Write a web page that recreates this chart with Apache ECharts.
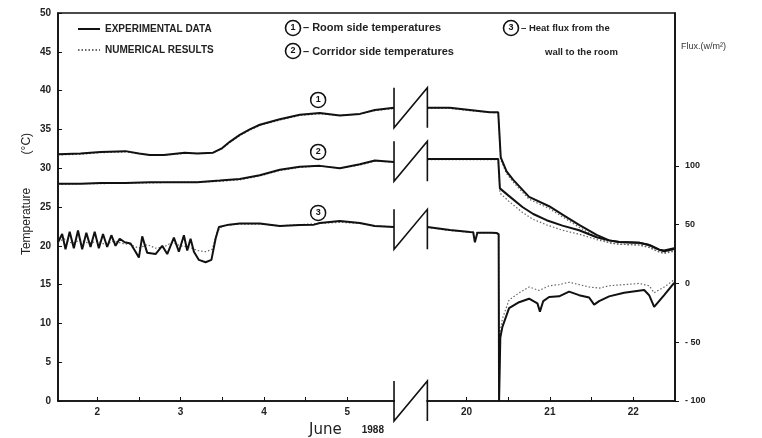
<!DOCTYPE html>
<html>
<head>
<meta charset="utf-8">
<script src="https://cdn.jsdelivr.net/npm/echarts@6/dist/echarts.min.js"></script>
<style>
  html, body { margin: 0; padding: 0; background: #fff; }
  #main { width: 762px; height: 438px; }
</style>
</head>
<body>
<div id="main"></div>
<script>
// days of June 1988; the axis skips from the 5th to the 19th
var dayShift = 13.57;
var breakFrom = 5.56, breakTo = 19.53;

var dayTicks = [2, 2.5, 3, 3.5, 4, 4.5, 5, 20, 20.5, 21, 21.5, 22];
var dayLabels = [2, 3, 4, 5, 20, 21, 22];
var fluxTicks = [-100, -50, 0, 50, 100];

// (1) room side temperature, deg C
var roomExp = [
  [1.53,31.8],[1.8,31.9],[2.04,32.1],[2.34,32.2],[2.5,31.9],[2.63,31.7],[2.8,31.7],[3.05,32.0],[3.2,31.9],[3.39,32.0],
  [3.5,32.6],[3.59,33.4],[3.71,34.3],[3.83,35.0],[3.95,35.6],[4.19,36.3],[4.43,36.9],[4.67,37.1],[4.91,36.8],[5.15,37.0],[5.33,37.5],[5.56,37.8],
  [19.53,37.8],[19.8,37.8],[20.04,37.5],[20.28,37.2],[20.38,37.2],[20.41,31.4],[20.48,29.6],[20.56,28.5],[20.75,26.3],[20.99,25.1],
  [21.17,23.9],[21.35,22.7],[21.56,21.4],[21.71,20.7],[21.83,20.5],[22.07,20.4],[22.19,20.1],[22.31,19.5],[22.37,19.4],[22.49,19.7]
];
var roomNum = [
  [1.53,31.7],[1.8,31.8],[2.04,32.0],[2.34,32.1],[2.5,31.9],[2.63,31.7],[2.8,31.7],[3.05,31.9],[3.2,31.9],[3.39,32.0],
  [3.5,32.5],[3.59,33.3],[3.71,34.2],[3.83,34.9],[3.95,35.5],[4.19,36.2],[4.43,36.8],[4.67,37.0],[4.91,36.8],[5.15,37.0],[5.33,37.4],[5.56,37.7],
  [19.53,37.7],[19.8,37.7],[20.04,37.4],[20.28,37.2],[20.38,37.1],[20.41,31.1],[20.48,29.3],[20.56,28.2],[20.75,26.0],[20.99,24.8],
  [21.17,23.6],[21.35,22.4],[21.56,21.1],[21.71,20.4],[21.83,20.2],[22.07,20.1],[22.19,19.8],[22.31,19.2],[22.37,19.1],[22.49,19.4]
];

// (2) corridor side temperature, deg C
var corrExp = [
  [1.53,28.0],[1.8,28.0],[2.04,28.1],[2.34,28.1],[2.63,28.2],[2.9,28.2],[3.2,28.2],[3.47,28.4],[3.71,28.6],[3.95,29.1],
  [4.19,29.8],[4.43,30.2],[4.67,30.3],[4.91,30.0],[5.15,30.5],[5.33,31.0],[5.56,30.8],
  [19.53,31.2],[20.04,31.2],[20.38,31.2],[20.40,27.4],[20.50,26.5],[20.67,25.0],[20.80,24.1],[20.96,23.3],[21.15,22.6],
  [21.35,22.0],[21.56,21.1],[21.71,20.7],[21.83,20.5],[22.07,20.4],[22.19,20.1],[22.31,19.5],[22.37,19.3],[22.49,19.6]
];
var corrNum = [
  [1.53,27.9],[1.8,28.0],[2.04,28.0],[2.34,28.1],[2.63,28.1],[2.9,28.2],[3.2,28.2],[3.47,28.3],[3.71,28.5],[3.95,29.0],
  [4.19,29.7],[4.43,30.1],[4.67,30.3],[4.91,30.0],[5.15,30.4],[5.33,30.9],[5.56,30.8],
  [19.53,31.1],[20.04,31.1],[20.38,31.1],[20.40,26.8],[20.50,25.8],[20.67,24.3],[20.80,23.4],[20.96,22.7],[21.15,22.0],
  [21.35,21.5],[21.56,20.8],[21.71,20.4],[21.83,20.2],[22.07,20.1],[22.19,19.8],[22.31,19.2],[22.37,19.0],[22.49,19.3]
];

// (3) heat flux from the wall to the room, W/m2
var fluxExp = [
  [1.53,35],[1.58,42],[1.62,29],[1.67,44],[1.72,30],[1.77,45],[1.82,29],[1.87,43],[1.92,31],[1.97,44],[2.02,30],[2.07,42],
  [2.12,31],[2.17,41],[2.22,32],[2.27,38],[2.33,35],[2.40,34],[2.46,27],[2.50,22],[2.54,40],[2.60,26],[2.70,25],[2.78,32],
  [2.84,25],[2.92,39],[2.98,27],[3.04,41],[3.08,28],[3.12,38],[3.16,27],[3.22,20],[3.30,18],[3.37,20],[3.42,38],[3.46,48],
  [3.58,50],[3.71,51],[3.95,51],[4.19,48.8],[4.43,49.7],[4.60,50],[4.67,51.4],[4.91,53],[5.15,51.4],[5.33,48.8],[5.56,48],
  [19.53,48],[19.8,45.4],[20.04,43.7],[20.08,43.5],[20.10,35],[20.13,43],[20.30,43],[20.36,42.9],[20.385,42],[20.39,-100],
  [20.405,-46],[20.43,-37],[20.46,-31],[20.51,-21],[20.63,-16],[20.75,-13],[20.85,-17],[20.88,-24],[20.92,-15],[20.99,-11.5],
  [21.11,-11],[21.23,-7],[21.35,-10],[21.47,-12],[21.53,-18],[21.59,-15],[21.71,-11],[21.89,-8],[22.13,-5.6],[22.19,-10],
  [22.25,-20],[22.37,-10],[22.49,0.4]
];
var fluxNum = [
  [1.53,35],[1.6,38],[1.7,34],[1.8,37],[1.9,34],[2.0,36],[2.1,33],[2.2,36],[2.3,34],[2.4,33],[2.5,30],[2.6,33],[2.7,30],
  [2.8,31],[2.9,35],[3.0,32],[3.1,31],[3.2,28],[3.3,27],[3.38,29],[3.44,44],[3.5,49],[3.71,50.5],[3.95,50.5],[4.19,49],
  [4.43,50],[4.67,51],[4.91,52],[5.15,51],[5.33,49],[5.56,48],
  [19.53,47.5],[19.8,45],[20.04,43.5],[20.3,43],[20.385,42],[20.39,-100],[20.405,-40],[20.43,-30],[20.46,-24],[20.51,-14],
  [20.63,-8],[20.75,-3],[20.87,-6],[20.99,-2],[21.11,-1],[21.23,1],[21.35,-1],[21.47,-3],[21.59,-4],[21.71,-2],[21.89,-1],
  [22.07,0],[22.19,-2],[22.25,-8],[22.37,-3],[22.49,3]
];

// break marks: [from day, to day, level]
var tempBreaks = [[breakFrom, breakTo, 37.8], [breakFrom, breakTo, 30.9], [breakFrom, breakTo, 0]];
var fluxBreaks = [[breakFrom, breakTo, 46]];

function toU(d) { return d > 10 ? d - dayShift : d; }
function fromU(u) { return u > 6 ? Math.round(u + dayShift) : Math.round(u); }

function build(arr) {
  var out = [];
  for (var i = 0; i < arr.length; i++) {
    if (i > 0 && arr[i][0] - arr[i - 1][0] > 5) out.push([(toU(breakFrom) + toU(breakTo)) / 2, '-']);
    out.push([toU(arr[i][0]), arr[i][1]]);
  }
  return out;
}

function renderBreak(params, api) {
  var a = api.coord([toU(api.value(0)), api.value(2)]);
  var b = api.coord([toU(api.value(1)), api.value(2)]);
  var h = 20;
  return {
    type: 'group',
    children: [
      { type: 'rect', shape: { x: a[0] + 1, y: a[1] - 3, width: b[0] - a[0] - 2, height: 6 }, style: { fill: '#fff' } },
      { type: 'polyline', shape: { points: [[a[0], a[1] - h], [a[0], a[1] + h], [b[0], a[1] - h], [b[0], a[1] + h]] },
        style: { stroke: '#111', lineWidth: 1.6, fill: 'none' } }
    ]
  };
}

function mark(txt, coord) {
  return {
    symbol: 'circle', symbolSize: 15, silent: true,
    itemStyle: { color: '#fff', borderColor: '#111', borderWidth: 1.5 },
    label: { show: true, position: 'inside', formatter: txt, color: '#111', fontSize: 9, fontWeight: 'bold' },
    data: [{ coord: coord }]
  };
}

var expStyle = { color: '#111', width: 2 };
var numStyle = { color: '#666', width: 1.2, type: [1.5, 2] };

var myChart = echarts.init(document.getElementById('main'));
myChart.setOption({
  animation: false,
  backgroundColor: '#fff',
  textStyle: { fontFamily: 'Liberation Sans' },
  grid: { left: 58, right: 87, top: 13, bottom: 37, outerBoundsMode: 'none', containLabel: false,
    show: true, borderColor: '#111', borderWidth: 1.6 },
  legend: {
    left: 72, top: 19, orient: 'vertical', itemGap: 11, itemWidth: 22, itemHeight: 8,
    itemStyle: { opacity: 0 },
    textStyle: { fontSize: 10, fontWeight: 'bold', color: '#222' },
    data: ['EXPERIMENTAL DATA', 'NUMERICAL RESULTS']
  },
  xAxis: {
    type: 'value', min: toU(1.53), max: toU(22.5),
    name: '{a|June}      {b|1988}', nameLocation: 'middle', nameGap: 22,
    nameTextStyle: { padding: [0, 40, 0, 0], rich: {
      a: { fontSize: 15, color: '#222', fontFamily: 'DejaVu Sans' },
      b: { fontSize: 10, fontWeight: 'bold', color: '#222' } } },
    axisLine: { lineStyle: { color: '#111', width: 1.6 } },
    axisTick: { inside: true, length: 4, customValues: dayTicks.map(toU), lineStyle: { color: '#111' } },
    axisLabel: { customValues: dayLabels.map(toU), formatter: function (v) { return fromU(v); },
      fontSize: 10, fontWeight: 'bold', color: '#222', margin: 6 },
    splitLine: { show: false }
  },
  yAxis: [{
    type: 'value', min: 0, max: 50, interval: 5,
    name: 'Temperature          (°C)', nameLocation: 'middle', nameGap: 25, nameMoveOverlap: false,
    nameTextStyle: { fontSize: 12, color: '#222', padding: [0, 0, 0, 26] },
    axisLine: { show: true, lineStyle: { color: '#111', width: 1.6 } },
    axisTick: { show: true, inside: true, length: 4, lineStyle: { color: '#111' } },
    axisLabel: { fontSize: 10, fontWeight: 'bold', color: '#222', margin: 7 },
    splitLine: { show: false }
  }, {
    type: 'value', min: -100, max: 230, position: 'right',
    axisLine: { show: true, lineStyle: { color: '#111', width: 1.6 } },
    axisTick: { show: true, length: 4, customValues: fluxTicks, lineStyle: { color: '#111' } },
    axisLabel: { customValues: fluxTicks, fontSize: 9, fontWeight: 'bold', color: '#222', margin: 10,
      formatter: function (v) { return v < 0 ? '- ' + (-v) : String(v); } },
    splitLine: { show: false }
  }],
  graphic: [
    { type: 'circle', shape: { cx: 293, cy: 28, r: 7.5 }, style: { fill: '#fff', stroke: '#111', lineWidth: 1.6 } },
    { type: 'text', x: 293, y: 28, style: { text: '1', font: 'bold 9px "Liberation Sans"', fill: '#111', align: 'center', verticalAlign: 'middle' } },
    { type: 'text', x: 303, y: 28, style: { text: '– Room side temperatures', font: 'bold 11px "Liberation Sans"', fill: '#222', verticalAlign: 'middle' } },
    { type: 'circle', shape: { cx: 293, cy: 51, r: 7.5 }, style: { fill: '#fff', stroke: '#111', lineWidth: 1.6 } },
    { type: 'text', x: 293, y: 51, style: { text: '2', font: 'bold 9px "Liberation Sans"', fill: '#111', align: 'center', verticalAlign: 'middle' } },
    { type: 'text', x: 303, y: 52, style: { text: '– Corridor side temperatures', font: 'bold 11px "Liberation Sans"', fill: '#222', verticalAlign: 'middle' } },
    { type: 'circle', shape: { cx: 511, cy: 28, r: 7.5 }, style: { fill: '#fff', stroke: '#111', lineWidth: 1.6 } },
    { type: 'text', x: 511, y: 28, style: { text: '3', font: 'bold 9px "Liberation Sans"', fill: '#111', align: 'center', verticalAlign: 'middle' } },
    { type: 'text', x: 521, y: 28, style: { text: '– Heat flux from the', font: 'bold 9.5px "Liberation Sans"', fill: '#222', verticalAlign: 'middle' } },
    { type: 'text', x: 545, y: 52, style: { text: 'wall to the room', font: 'bold 9.5px "Liberation Sans"', fill: '#222', verticalAlign: 'middle' } },
    { type: 'text', x: 681, y: 47, style: { text: 'Flux.(w/m²)', font: '9px "Liberation Sans"', fill: '#333', verticalAlign: 'middle' } }
  ],
  series: [
    { name: 'NUMERICAL RESULTS', type: 'line', yAxisIndex: 0, showSymbol: false, symbol: 'none', z: 2, lineStyle: numStyle, itemStyle: { color: '#666' }, data: build(roomNum) },
    { name: 'NUMERICAL RESULTS', type: 'line', yAxisIndex: 0, showSymbol: false, symbol: 'none', z: 2, lineStyle: numStyle, itemStyle: { color: '#666' }, data: build(corrNum) },
    { name: 'NUMERICAL RESULTS', type: 'line', yAxisIndex: 1, showSymbol: false, symbol: 'none', z: 2, lineStyle: numStyle, itemStyle: { color: '#666' }, data: build(fluxNum) },
    { name: 'EXPERIMENTAL DATA', type: 'line', yAxisIndex: 0, showSymbol: false, symbol: 'none', z: 3, lineStyle: expStyle, itemStyle: { color: '#111' },
      data: build(roomExp), markPoint: mark('1', [4.65, 38.8]) },
    { name: 'EXPERIMENTAL DATA', type: 'line', yAxisIndex: 0, showSymbol: false, symbol: 'none', z: 3, lineStyle: expStyle, itemStyle: { color: '#111' },
      data: build(corrExp), markPoint: mark('2', [4.65, 32.1]) },
    { name: 'EXPERIMENTAL DATA', type: 'line', yAxisIndex: 1, showSymbol: false, symbol: 'none', z: 3, lineStyle: expStyle, itemStyle: { color: '#111' },
      data: build(fluxExp), markPoint: mark('3', [4.65, 60]) },
    { type: 'custom', yAxisIndex: 0, clip: false, silent: true, z: 5, renderItem: renderBreak, data: tempBreaks },
    { type: 'custom', yAxisIndex: 1, clip: false, silent: true, z: 5, renderItem: renderBreak, data: fluxBreaks }
  ]
});
</script>
</body>
</html>
